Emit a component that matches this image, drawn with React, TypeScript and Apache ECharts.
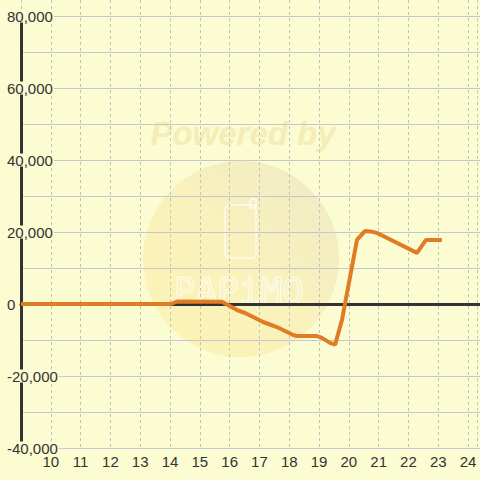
import React, { useEffect, useRef } from 'react';
import * as echarts from 'echarts';

// Hours (x) and balance values (y)
const hours = [9, 14.0, 14.2, 15.7, 16.2, 16.47, 17.07, 17.53, 18.07, 18.2, 18.87, 19.03, 19.3, 19.47, 19.7, 20.2, 20.47, 20.7, 20.87, 22.2, 22.5, 23.03];
const balance = [0, 0, 700, 600, -1700, -2500, -5000, -6400, -8600, -8900, -8900, -9400, -10800, -11300, -4400, 17800, 20300, 20100, 19700, 14200, 17800, 17800];

const xMin = 9;
const xMax = 24.3;
const xStep = 1;
const xFirstLabel = 10;
const yMin = -40000;
const yMax = 80000;
const yStep = 10000;
const yLabelStep = 20000;

const BG = '#fcfcd2';
const FONT = '"Liberation Sans", Arial, sans-serif';

export default function App() {
  const ref = useRef<HTMLDivElement>(null);
  useEffect(() => {
    document.body.style.margin = '0';
    const chart = echarts.init(ref.current!, null, { renderer: 'svg' });
    chart.setOption({
      animation: false,
      backgroundColor: BG,
      graphic: {
        elements: [
          {
            type: 'circle',
            z: -1,
            shape: { cx: 241, cy: 259, r: 98 },
            style: {
              fill: new echarts.graphic.LinearGradient(1, 0, 0, 1, [
                { offset: 0, color: '#eeeac6' },
                { offset: 0.5, color: '#f9f2bc' },
                { offset: 1, color: '#fdf3b4' },
              ]),
            },
          },
          {
            type: 'text',
            z: -1,
            x: 243,
            y: 133,
            style: {
              text: 'Powered by',
              font: 'italic bold 33px "Liberation Sans", Arial, sans-serif',
              textAlign: 'center',
              textVerticalAlign: 'middle',
              fill: '#f4edb6',
            },
          },
          {
            type: 'rect',
            z: -1,
            shape: { x: 225, y: 205, width: 31, height: 53, r: 4 },
            style: { fill: 'none', stroke: 'rgba(255,255,255,0.75)', lineWidth: 1.5 },
          },
          {
            type: 'rect',
            z: -1,
            shape: { x: 250, y: 199, width: 6, height: 9, r: 2 },
            style: { fill: 'none', stroke: 'rgba(255,255,255,0.75)', lineWidth: 1.5 },
          },
          {
            type: 'text',
            z: -1,
            x: 239,
            y: 290,
            style: {
              text: 'PAPiMO',
              font: '36px "DejaVu Sans Mono", monospace',
              textAlign: 'center',
              textVerticalAlign: 'middle',
              fill: 'none',
              stroke: 'rgba(255,255,255,0.75)',
              lineWidth: 1.2,
            },
          },
        ],
      },
      grid: [
        { left: 21, right: 0, top: 0, bottom: 32 },
        { left: 21, right: 0, top: 16, bottom: 32 },
      ],
      xAxis: [
        {
          gridIndex: 0,
          type: 'value',
          min: xMin,
          max: xMax,
          interval: xStep,
          axisLine: { show: false },
          axisTick: { show: false },
          splitLine: { show: true, lineStyle: { color: '#c2c2c2', width: 1, type: [3, 3] } },
          axisLabel: {
            margin: 7,
            fontSize: 15,
            lineHeight: 13,
            color: '#333',
            fontFamily: FONT,
            formatter: (v: number) => (Number.isInteger(v) && v >= xFirstLabel ? String(v) : ''),
          },
        },
        {
          gridIndex: 1,
          type: 'value',
          min: xMin,
          max: xMax,
          interval: xStep,
          axisLine: { show: true, onZero: true, lineStyle: { color: '#333', width: 3 } },
          axisTick: { show: false },
          axisLabel: { show: false },
          splitLine: { show: false },
        },
      ],
      yAxis: [
        { gridIndex: 0, type: 'value', min: 0, max: 1, show: false },
        {
          gridIndex: 1,
          type: 'value',
          min: yMin,
          max: yMax,
          interval: yStep,
          z: 0,
          axisLine: { show: true, onZero: false, lineStyle: { color: '#333', width: 3 } },
          axisTick: { show: false },
          axisLabel: { show: false },
          splitLine: { show: true, lineStyle: { color: '#c6c6cc', width: 1 } },
        },
        {
          gridIndex: 1,
          type: 'value',
          position: 'left',
          min: yMin,
          max: yMax,
          interval: yStep,
          z: 2,
          axisLine: { show: false, onZero: false },
          axisTick: { show: false },
          splitLine: { show: false },
          axisLabel: {
            margin: 15,
            align: 'left',
            fontSize: 15,
            lineHeight: 13,
            color: '#333',
            fontFamily: FONT,
            backgroundColor: BG,
            padding: [0, 1],
            formatter: (v: number) => (v % yLabelStep === 0 ? v.toLocaleString('en-US') : ''),
          },
        },
      ],
      series: [
        {
          type: 'line',
          xAxisIndex: 1,
          yAxisIndex: 1,
          z: 3,
          symbol: 'none',
          data: hours.map((h, i) => [h, balance[i]]),
          lineStyle: { color: '#e07c24', width: 4 },
        },
      ],
    });
    return () => chart.dispose();
  }, []);
  return <div ref={ref} style={{ width: 480, height: 480 }} />;
}
